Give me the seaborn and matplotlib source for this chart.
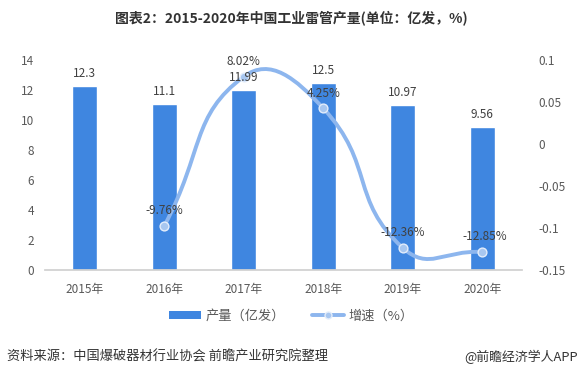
import numpy as np
import pandas as pd
import matplotlib
matplotlib.use("Agg")
import matplotlib.pyplot as plt
from matplotlib.path import Path
from matplotlib.patches import PathPatch
from matplotlib.lines import Line2D
from matplotlib.patches import Patch
import seaborn as sns

years = ["2015年", "2016年", "2017年", "2018年", "2019年", "2020年"]
output = [12.3, 11.1, 11.99, 12.5, 10.97, 9.56]
growth_years = ["2016年", "2017年", "2018年", "2019年", "2020年"]
growth = [-0.0976, 0.0802, 0.0425, -0.1236, -0.1285]
growth_labels = ["-9.76%", "8.02%", "4.25%", "-12.36%", "-12.85%"]
left_ticks = [0, 2, 4, 6, 8, 10, 12, 14]
right_ticks = [-0.15, -0.1, -0.05, 0, 0.05, 0.1]
right_tick_labels = ["-0.15", "-0.1", "-0.05", "0", "0.05", "0.1"]

sns.set_theme(style="white")
plt.rcParams["font.family"] = ["Noto Sans CJK SC", "DejaVu Sans"]

BAR = "#3f86e0"
LINE = "#8db6ee"
TXT = "#595959"

fig = plt.figure(figsize=(5.83, 3.79), dpi=100)
ax = fig.add_axes([45 / 583, 1 - 270 / 379, 477 / 583, 210 / 379])

df = pd.DataFrame({"year": years, "output": output})
sns.barplot(data=df, x="year", y="output", color=BAR, width=0.315,
            saturation=1, ax=ax)
ax.set_xlim(-0.5, 5.5)
ax.set_ylim(0, 14)
ax.set_yticks(left_ticks)
ax.set_xlabel("")
ax.set_ylabel("")
for s in ["top", "right", "left"]:
    ax.spines[s].set_visible(False)
ax.spines["bottom"].set_color("#d0d0d0")
ax.tick_params(axis="both", length=0, labelsize=8.5, colors=TXT)
ax.tick_params(axis="x", pad=9)
ax.tick_params(axis="y", pad=8)

ax2 = ax.twinx()
ax2.set_ylim(-0.15, 0.1)
ax2.set_yticks(right_ticks)
ax2.set_yticklabels(right_tick_labels)
for s in ["top", "right", "left", "bottom"]:
    ax2.spines[s].set_visible(False)
ax2.tick_params(axis="y", length=0, labelsize=8.5, colors=TXT, pad=12)
ax2.grid(False)
ax.grid(False)

# smooth curve (ECharts-like bezier) through the data points
gx = np.array([years.index(y) for y in growth_years], dtype=float)
gy = np.array(growth)
pts = ax2.transData.transform(np.column_stack([gx, gy]))
smooth = 0.5
verts = [pts[0]]
codes = [Path.MOVETO]
n = len(pts)
cps = []
for i in range(n):
    prev = pts[i - 1] if i > 0 else pts[i]
    nxt = pts[i + 1] if i < n - 1 else pts[i]
    v = nxt - prev
    d0 = np.hypot(*(pts[i] - prev))
    d1 = np.hypot(*(nxt - pts[i]))
    s = d0 + d1
    if s == 0:
        cps.append((pts[i], pts[i]))
        continue
    c0 = pts[i] - v * smooth * d0 / s
    c1 = pts[i] + v * smooth * d1 / s
    cps.append((c0, c1))
for i in range(n - 1):
    verts += [cps[i][1], cps[i + 1][0], pts[i + 1]]
    codes += [Path.CURVE4] * 3
verts = ax2.transData.inverted().transform(np.array(verts))
patch = PathPatch(Path(verts, codes), facecolor="none", edgecolor=LINE,
                  lw=2.8, capstyle="round", zorder=3)
ax2.add_patch(patch)

gdf = pd.DataFrame({"x": gx, "y": gy})
sns.scatterplot(data=gdf, x="x", y="y", ax=ax2, s=40, color="#a8c7f0",
                edgecolor="#e3edfb", linewidth=1.0, zorder=4)
ax2.set_xlabel("")
ax2.set_ylabel("")

# bar value labels drawn on top of the line
for i, v in enumerate(output):
    ax2.annotate(f"{v:g}", (i, v), xycoords=ax.transData, xytext=(0, 9),
                 textcoords="offset points", ha="center", va="center",
                 fontsize=8.5, color="#404040", zorder=6)

for x, y, lab in zip(gx, gy, growth_labels):
    ax2.annotate(lab, (x, y), xytext=(2 if x == 5 else 0, 11),
                 textcoords="offset points", ha="center", va="center",
                 fontsize=8.5, color="#404040", zorder=5)

fig.text(0.5, 1 - 18 / 379, "图表2：2015-2020年中国工业雷管产量(单位：亿发，%)",
         ha="center", va="center", fontsize=10, fontweight="bold",
         color="#333333")

handles = [Patch(facecolor=BAR, edgecolor="none"),
           Line2D([0], [0], color=LINE, lw=2.8, marker="o", markersize=5,
                  markerfacecolor="#a8c7f0", markeredgecolor="#e3edfb")]
fig.legend(handles, ["产量（亿发）", "增速（%）"], loc="center",
           bbox_to_anchor=(0.5, 1 - 316 / 379), ncol=2, frameon=False,
           fontsize=9.5, labelcolor=TXT, handlelength=2.4, handleheight=0.6,
           columnspacing=2.0, handletextpad=0.4)

fig.text(7 / 583, 1 - 357 / 379, "资料来源：中国爆破器材行业协会 前瞻产业研究院整理",
         ha="left", va="center", fontsize=9.5, color="#333333")
fig.text(578 / 583, 1 - 357 / 379, "@前瞻经济学人APP",
         ha="right", va="center", fontsize=9.3, color="#333333")

fig.savefig("out.png", dpi=100)
